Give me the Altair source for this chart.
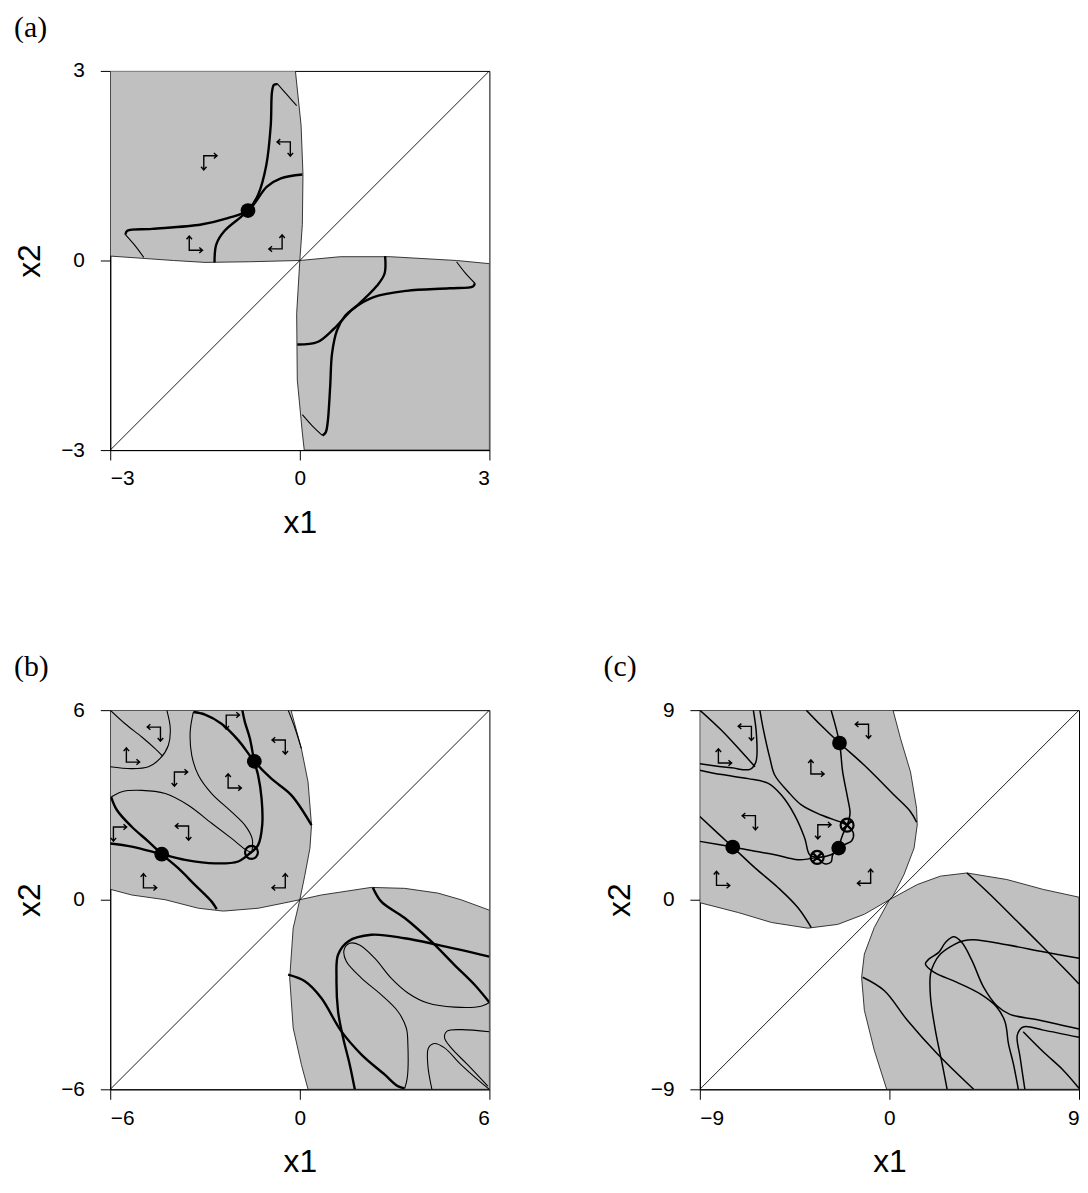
import altair as alt
import pandas as pd

GREY = "#c0c0c0"

# ---------------- panel (a) ----------------
a_lim = 3
a_grey = {
    "tl": [(-3, 3), (-0.07, 3), (0.02, 2.14), (0.05, 1.36), (0.04, 0.57), (0, 0),
           (-0.8, -0.02), (-1.5, -0.03), (-2.0, 0.0), (-3, 0.07)],
    "br": [(0, 0), (0.64, 0.06), (1.43, 0.06), (2.48, 0.0), (3, -0.05), (3, -3),
           (0.07, -3), (0.04, -2.73), (-0.04, -1.89), (-0.05, -0.84)],
}
a_thick = {
    "v_tl": [(-1.35, -0.03), (-1.32, 0.26), (-1.19, 0.47), (-0.93, 0.69), (-0.82, 0.79),
             (-0.66, 1.04), (-0.53, 1.51), (-0.46, 2.14), (-0.44, 2.67), (-0.41, 2.78), (-0.35, 2.79)],
    "h_tl": [(-2.76, 0.41), (-2.73, 0.47), (-2.34, 0.5), (-1.56, 0.57), (-1.14, 0.67),
             (-0.82, 0.79), (-0.52, 1.17), (-0.30, 1.30), (0.04, 1.36)],
    "v_br": [(1.35, 0.07), (1.34, -0.21), (1.22, -0.40), (0.91, -0.71), (0.72, -0.87),
             (0.59, -1.10), (0.51, -1.47), (0.48, -2.0), (0.44, -2.57), (0.41, -2.72), (0.36, -2.77)],
    "h_br": [(-0.04, -1.33), (0.28, -1.29), (0.54, -1.08), (0.85, -0.76), (1.17, -0.58),
             (1.69, -0.48), (2.37, -0.44), (2.74, -0.41), (2.77, -0.36)],
}
a_thin = {
    "v_tl": [(-0.35, 2.79), (-0.2, 2.62), (-0.05, 2.45)],
    "h_tl": [(-2.47, 0.05), (-2.62, 0.25), (-2.76, 0.41)],
    "v_br": [(0.36, -2.77), (0.2, -2.62), (0.04, -2.44)],
    "h_br": [(2.77, -0.36), (2.62, -0.2), (2.48, -0.02)],
}
a_glyphs = [("RD", -1.44, 1.57), ("LD", -0.23, 1.79), ("UR", -1.67, 0.25), ("UL", -0.36, 0.27)]
a_dots = [(-0.82, 0.79)]

# ---------------- panel (b) ----------------
b_lim = 6
b_grey = {
    "tl": [(-6, 6), (-0.28, 6), (0.05, 4.78), (0.26, 3.73), (0.37, 2.36), (0.32, 1.63), (0.16, 0.78),
           (0, 0), (-0.53, -0.11), (-1.32, -0.27), (-2.42, -0.36), (-3.21, -0.27), (-4.26, 0.0),
           (-5.32, 0.15), (-6, 0.33)],
    "br": [(0, 0), (0.68, 0.15), (2.26, 0.39), (3.32, 0.36), (4.37, 0.21), (5.1, 0.0), (6, -0.33),
           (6, -6), (0.26, -6), (0.05, -5.22), (-0.21, -4.06), (-0.32, -2.48), (-0.21, -0.9)],
}
b_thick = {
    "A": [(-6.0, 1.78), (-5.32, 1.68), (-4.37, 1.44), (-3.63, 1.26), (-2.68, 1.15), (-1.95, 1.21),
          (-1.58, 1.47), (-1.32, 1.73), (-1.19, 2.36), (-1.21, 3.2), (-1.32, 3.94), (-1.44, 4.38),
          (-1.58, 5.1), (-1.74, 5.63), (-1.82, 6.0)],
    "B": [(-5.97, 3.25), (-5.79, 2.84), (-5.32, 2.31), (-4.79, 1.84), (-4.37, 1.44), (-3.84, 0.99),
          (-3.32, 0.47), (-2.79, -0.06), (-2.63, -0.3)],
    "C": [(-3.37, 5.94), (-3.0, 5.86), (-2.48, 5.57), (-1.95, 5.05), (-1.44, 4.38), (-0.9, 3.83),
          (-0.27, 3.31), (0.37, 2.36)],
    "D": [(2.31, 0.39), (2.58, -0.06), (3.32, -0.58), (4.16, -1.32), (4.89, -2.06), (5.53, -2.69),
          (6.0, -3.25)],
    "E": [(6.0, -1.8), (4.37, -1.43), (3.32, -1.22), (2.26, -1.11), (1.53, -1.32), (1.21, -1.74),
          (1.16, -2.48), (1.21, -3.53), (1.37, -4.37), (1.58, -5.22), (1.74, -6.0)],
    "F": [(-0.37, -2.37), (0.16, -2.58), (0.68, -3.11), (1.31, -4.16), (1.95, -4.9), (2.68, -5.53),
          (3.1, -5.9), (3.32, -5.97)],
}
b_thin = {
    "diag": [(-6.0, 6.0), (-5.53, 5.57), (-5.0, 5.15), (-4.58, 4.78), (-4.35, 4.55)],
    "loop": [(-4.21, 6.0), (-4.1, 5.42), (-4.16, 4.89), (-4.42, 4.47), (-4.79, 4.21), (-5.32, 4.15),
             (-6.0, 4.21)],
    "lens_lo": [(-5.97, 3.25), (-5.63, 3.42), (-5.0, 3.46), (-4.26, 3.36), (-3.53, 2.99), (-2.79, 2.42),
                (-2.16, 1.94), (-1.69, 1.57), (-1.53, 1.5)],
    "lens_up": [(-3.37, 5.94), (-3.47, 5.31), (-3.42, 4.57), (-3.21, 3.94), (-2.79, 3.36), (-2.16, 2.78),
                (-1.74, 2.36), (-1.51, 1.94), (-1.51, 1.57)],
    "edge": [(-0.37, 6.0), (-0.15, 5.42), (0.05, 4.78)],
    "loop_br": [(3.32, -5.97), (3.4, -5.64), (3.42, -4.59), (3.37, -4.06), (3.1, -3.53), (2.58, -3.01),
                (1.95, -2.48), (1.47, -1.95), (1.4, -1.59), (1.58, -1.38), (1.89, -1.43), (2.37, -1.85),
                (2.89, -2.48), (3.42, -2.95), (4.05, -3.27), (4.9, -3.4), (5.74, -3.37), (6.0, -3.25)],
    "G": [(6.0, -4.18), (5.1, -4.11), (4.66, -4.16), (4.58, -4.37), (4.79, -4.69), (5.31, -5.22),
          (5.95, -5.9)],
    "H": [(4.18, -6.0), (4.05, -5.22), (4.07, -4.69), (4.26, -4.55), (4.58, -4.69), (5.1, -5.22),
          (5.74, -5.79), (6.0, -6.0)],
}
b_glyphs = [("LD", -4.57, 5.29), ("UR", -5.33, 4.53), ("RD", -2.17, 5.67), ("LD", -0.62, 4.88),
            ("RD", -3.81, 3.87), ("UR", -2.11, 3.71), ("RD", -5.74, 2.13), ("LD", -3.68, 2.16),
            ("UR", -4.79, 0.55), ("UL", -0.62, 0.55)]
b_dots = [(-4.37, 1.44), (-1.44, 4.38)]
b_open = [(-1.53, 1.5)]

# ---------------- panel (c) ----------------
c_lim = 9
c_grey = {
    "tl": [(-9, 9), (0.17, 9), (0.53, 7.64), (1.0, 6.07), (1.29, 4.34), (1.32, 3.55), (1.17, 2.45),
           (0.69, 1.19), (0.14, 0.13), (0, 0), (-1.19, -0.69), (-2.45, -1.17), (-3.87, -1.35),
           (-5.6, -1.08), (-7.17, -0.61), (-9, -0.14)],
    "br": [(0, 0), (1.32, 0.72), (2.42, 1.12), (3.68, 1.27), (5.57, 0.96), (7.3, 0.49), (9, 0.12),
           (9, -9), (-0.13, -9), (-0.72, -7.14), (-1.19, -5.25), (-1.32, -3.68), (-1.19, -2.58),
           (-0.72, -1.32)],
}
c_lines = {
    "L1": [(-3.95, 9.0), (-3.24, 8.27), (-2.37, 7.44), (-1.19, 6.38), (0.22, 4.97), (1.0, 4.18), (1.29, 3.68)],
    "L2": [(-2.77, 9.0), (-2.37, 7.44), (-2.22, 6.07), (-1.98, 4.81), (-1.87, 4.1), (-2.01, 3.54)],
    "L4": [(-9.0, 2.77), (-7.44, 2.5), (-6.38, 2.3), (-5.44, 2.14), (-4.34, 1.9), (-3.43, 2.01)],
    "L5": [(-9.0, 3.95), (-7.44, 2.5), (-6.38, 1.51), (-5.28, 0.57), (-4.34, -0.38), (-3.71, -1.32)],
    "L3a": [(-2.01, 3.54), (-2.22, 3.08), (-2.37, 2.61), (-2.41, 2.45), (-2.61, 2.22), (-3.0, 2.06), (-3.43, 2.01)],
    "L3b": [(-2.01, 3.54), (-1.71, 3.16), (-1.79, 2.8), (-2.14, 2.61), (-2.41, 2.45), (-2.69, 2.14),
            (-2.77, 1.79), (-3.08, 1.71), (-3.43, 2.01)],
    "D1": [(-9.0, 9.0), (-7.96, 8.03), (-7.01, 7.01), (-6.38, 6.31)],
    "T1": [(-6.46, 9.0), (-6.31, 7.8), (-6.34, 6.54), (-6.62, 6.19), (-7.49, 6.26), (-9.0, 6.46)],
    "T3": [(-6.15, 9.0), (-5.99, 8.11), (-5.67, 6.7), (-5.44, 5.91), (-4.81, 5.13), (-4.18, 4.5),
           (-3.24, 4.02), (-2.3, 3.68), (-2.01, 3.54)],
    "T4": [(-9.0, 6.15), (-7.96, 5.94), (-6.7, 5.75), (-5.75, 5.52), (-5.13, 4.97), (-4.5, 4.02),
           (-4.02, 2.92), (-3.79, 2.14), (-3.43, 2.01)],
    "M1": [(3.68, 1.27), (4.78, 0.25), (6.04, -1.0), (7.3, -2.26), (8.24, -3.21), (9.0, -4.0)],
    "M2": [(9.0, -2.78), (7.3, -2.47), (5.57, -2.14), (4.0, -1.9), (3.52, -1.95), (3.05, -2.14),
           (2.42, -2.58), (2.11, -3.05), (1.95, -3.52), (1.95, -4.62), (2.18, -6.19), (2.5, -7.77),
           (2.74, -9.0)],
    "N": [(9.0, -6.14), (7.14, -5.72), (5.72, -5.44), (5.09, -5.02), (4.47, -4.15), (3.92, -2.89),
          (3.44, -2.03), (3.05, -1.76), (2.66, -2.03), (2.34, -2.5), (1.87, -2.82), (1.71, -3.05),
          (2.11, -3.44), (3.21, -3.92), (4.31, -4.47), (5.09, -5.09), (5.49, -5.8), (5.65, -6.83),
          (5.88, -7.77), (6.12, -9.0)],
    "N3": [(9.0, -6.53), (7.3, -6.19), (6.35, -6.04), (6.07, -6.43), (6.2, -7.45), (6.43, -9.0)],
    "N4": [(6.35, -6.27), (7.3, -7.22), (8.24, -8.08), (9.0, -8.95)],
    "M3": [(-1.27, -3.68), (-0.25, -4.31), (0.85, -5.72), (2.26, -7.3), (4.0, -9.0)],
}
c_glyphs = [("LD", -6.79, 7.97), ("UR", -7.88, 6.75), ("LD", -1.23, 8.07), ("UR", -3.49, 6.23),
            ("LD", -6.6, 3.73), ("RD", -3.16, 3.3), ("UR", -7.97, 0.94), ("UL", -1.13, 1.04)]
c_dots = [(-2.37, 7.44), (-7.44, 2.5), (-2.41, 2.45)]
c_xopen = [(-2.01, 3.54), (-3.43, 2.01)]

# glyph outlines (bent double arrows) as custom point shapes
GLYPH_KINDS = ["RD", "LD", "UR", "UL"]
GLYPH_PATHS = [
    "M 0.9 -0.6 L -0.55 -0.6 L -0.55 0.95 M 0.55 -0.9 L 0.9 -0.6 L 0.55 -0.3 M -0.85 0.6 L -0.55 0.95 L -0.25 0.6",
    "M -0.9 -0.6 L 0.55 -0.6 L 0.55 0.95 M -0.55 -0.9 L -0.9 -0.6 L -0.55 -0.3 M 0.85 0.6 L 0.55 0.95 L 0.25 0.6",
    "M 0.9 0.6 L -0.55 0.6 L -0.55 -0.95 M 0.55 0.9 L 0.9 0.6 L 0.55 0.3 M -0.85 -0.6 L -0.55 -0.95 L -0.25 -0.6",
    "M -0.9 0.6 L 0.55 0.6 L 0.55 -0.95 M -0.55 0.9 L -0.9 0.6 L -0.55 0.3 M 0.85 -0.6 L 0.55 -0.95 L 0.25 -0.6",
]
XCIRCLE = "M -1 0 A 1 1 0 1 1 1 0 A 1 1 0 1 1 -1 0 Z M -0.7 -0.7 L 0.7 0.7 M -0.7 0.7 L 0.7 -0.7"


def curves_df(d):
    rows = []
    for name, pts in d.items():
        for i, (x, y) in enumerate(pts):
            rows.append({"x": x, "y": y, "id": name, "ord": i})
    return pd.DataFrame(rows)


def pts_df(pts):
    return pd.DataFrame([{"x": x, "y": y} for x, y in pts])


def panel(lim, grey, thick, thin, glyphs, dots, opens, xopens, label, w_thick, w_thin):
    sc = alt.Scale(domain=[-lim, lim], nice=False, zero=False)
    X = alt.X("x:Q", scale=sc, axis=alt.Axis(values=[-lim, 0, lim], title="x1"))
    Y = alt.Y("y:Q", scale=sc, axis=alt.Axis(values=[-lim, 0, lim], title="x2"))
    layers = []
    layers.append(
        alt.Chart(curves_df(grey)).mark_line(
            fill=GREY, stroke="#222222", strokeWidth=0.9, interpolate="linear-closed", clip=True
        ).encode(x=X, y=Y, detail="id:N", order="ord:Q")
    )
    layers.append(
        alt.Chart(pts_df([(-lim, -lim), (lim, lim)])).mark_line(
            color="black", strokeWidth=0.9, clip=True
        ).encode(x=X, y=Y)
    )
    if thin:
        layers.append(
            alt.Chart(curves_df(thin)).mark_line(color="black", strokeWidth=w_thin, clip=True,
                                                 interpolate="catmull-rom")
            .encode(x=X, y=Y, detail="id:N", order="ord:Q")
        )
    if thick:
        layers.append(
            alt.Chart(curves_df(thick)).mark_line(color="black", strokeWidth=w_thick, clip=True,
                                                  interpolate="catmull-rom")
            .encode(x=X, y=Y, detail="id:N", order="ord:Q")
        )
    gdf = pd.DataFrame([{"g": g, "x": x, "y": y} for g, x, y in glyphs])
    layers.append(
        alt.Chart(gdf).mark_point(filled=False, color="black", strokeWidth=1.4, size=340, opacity=1)
        .encode(x=X, y=Y, shape=alt.Shape("g:N", scale=alt.Scale(domain=GLYPH_KINDS, range=GLYPH_PATHS), legend=None))
    )
    if opens:
        layers.append(
            alt.Chart(pts_df(opens)).mark_point(shape="circle", filled=False, color="black",
                                                strokeWidth=2.2, size=170, opacity=1)
            .encode(x=X, y=Y)
        )
    if xopens:
        layers.append(
            alt.Chart(pts_df(xopens)).mark_point(shape=XCIRCLE, filled=False, color="black",
                                                 strokeWidth=2.2, size=170, opacity=1)
            .encode(x=X, y=Y)
        )
    layers.append(
        alt.Chart(pts_df(dots)).mark_point(shape="circle", filled=True, color="black", size=220, opacity=1)
        .encode(x=X, y=Y)
    )
    return alt.layer(*layers).properties(
        width=382, height=382,
        title=alt.TitleParams(label, anchor="start", frame="bounds", font="Liberation Serif",
                              fontSize=30, fontWeight="normal", color="black", offset=17),
    )


pa = panel(a_lim, a_grey, a_thick, a_thin, a_glyphs, a_dots, [], [], "(a)", 2.4, 1.1)
pb = panel(b_lim, b_grey, b_thick, b_thin, b_glyphs, b_dots, b_open, [], "(b)", 2.4, 1.1)
pc = panel(c_lim, c_grey, {}, c_lines, c_glyphs, c_dots, [], c_xopen, "(c)", 1.5, 1.5)

chart = alt.vconcat(
    pa, alt.hconcat(pb, pc, spacing=113), spacing=113
).properties(
    padding={"left": 5, "top": 0, "right": 0, "bottom": 0}
).configure_view(
    stroke="black", strokeWidth=1
).configure_axis(
    grid=False, domainColor="black", tickColor="black", tickSize=10,
    labelFont="Liberation Sans", labelFontSize=21, labelColor="black",
    titleFont="Liberation Sans", titleFontSize=32, titleFontWeight="normal", titleColor="black",
).configure_axisX(
    labelPadding=8, titlePadding=19
).configure_axisY(
    labelPadding=16, titlePadding=14
)

chart.save("out.html", embed_options={"renderer": "svg", "actions": False})
